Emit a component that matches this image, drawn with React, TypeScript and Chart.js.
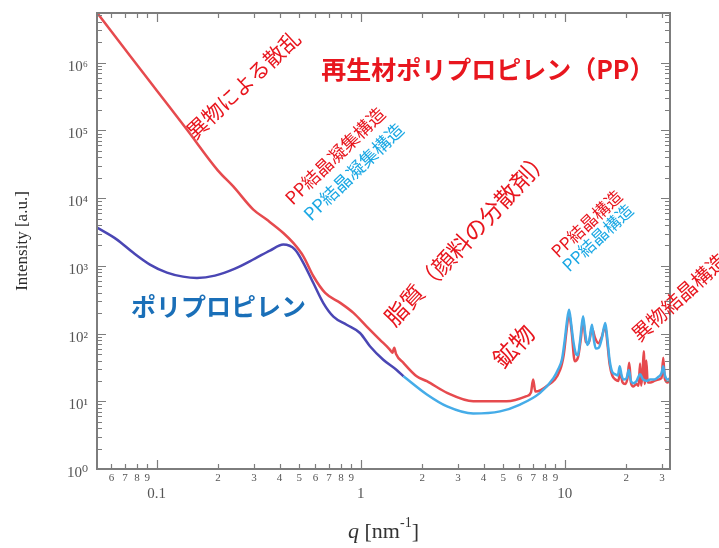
import React, { useEffect, useRef } from 'react';
import { Chart, registerables } from 'chart.js';

Chart.register(...registerables);

// ---------------- data ----------------
// Recycled PP (red)
const redQ = [0.0515, 0.074, 0.1003, 0.1406, 0.1998, 0.2373, 0.2977, 0.346, 0.4175, 0.4672, 0.5237, 0.5864, 0.6695, 0.794, 0.9213, 1.068, 1.24, 1.389, 1.43, 1.46, 1.49, 1.62, 1.88, 2.11, 2.65, 3.56, 5.19, 6.5, 6.83, 7.0, 7.18, 8.14, 9.5, 9.9, 10.2, 10.5, 10.8, 11.2, 11.6, 12.0, 12.3, 12.7, 13.1, 13.6, 14.1, 14.6, 15.2, 15.8, 16.2, 16.6, 17.1, 17.7, 18.3, 18.7, 19.2, 19.8, 20.3, 20.7, 21.1, 21.7, 22.4, 23.0, 23.4, 23.7, 24.1, 24.4, 24.7, 25.1, 25.5, 26.3, 27.5, 28.8, 29.8, 30.4, 30.9, 32.0, 32.8];
const redI = [5.29e6, 1.27e6, 3.86e5, 1.03e5, 2.55e4, 1.49e4, 6760, 4820, 3060, 2180, 1383, 702, 399, 284, 202, 128, 81.5, 58, 52, 62, 50, 36.9, 23.4, 19.8, 13.3, 10, 10, 11.9, 13.5, 21, 13.9, 16.7, 29.4, 50, 110, 200, 110, 39, 44, 85, 160, 75, 72, 120, 85, 72, 90, 128, 70, 35, 24, 21, 20, 27, 19, 18, 22, 37, 19, 16.5, 18, 17, 36, 17, 28, 55, 18, 40, 19, 19, 20, 21, 22, 44, 22, 19, 20];

// Virgin PP, small-angle part (navy)
const navyQ = [0.051, 0.0639, 0.0766, 0.0927, 0.1123, 0.1346, 0.1576, 0.193, 0.242, 0.303, 0.359, 0.4175, 0.4765, 0.524, 0.586, 0.656, 0.735, 0.853, 0.992, 1.11, 1.29, 1.5, 1.62];
const navyI = [3670, 2441, 1570, 1045, 795, 693, 664, 718, 910, 1280, 1680, 2060, 1738, 1100, 557, 282, 178, 135, 102, 65, 41, 29, 23.4];

// Virgin PP, wide-angle part (light blue)
const lightQ = [1.62, 2.11, 2.65, 3.56, 4.82, 6.04, 7.57, 8.8, 9.3, 9.7, 10.0, 10.25, 10.5, 10.75, 11.0, 11.3, 11.6, 11.9, 12.3, 12.6, 12.9, 13.2, 13.6, 13.9, 14.2, 14.7, 15.2, 15.8, 16.2, 16.6, 17.1, 17.7, 18.2, 18.6, 19.0, 19.5, 20.1, 20.6, 21.1, 21.7, 22.5, 23.4, 24.2, 25.2, 26.2, 27.5, 28.8, 29.8, 30.4, 31.0, 32.0, 32.8];
const lightI = [23.4, 12.6, 8.4, 6.6, 7.1, 8.94, 13.3, 22, 30, 42, 80, 150, 225, 140, 80, 52, 48, 80, 180, 100, 68, 80, 135, 80, 60, 62, 85, 143, 80, 40, 27, 25, 24, 33, 24, 21, 22, 29, 20, 18.5, 20, 25, 21, 20, 21, 21, 23, 26, 33, 24, 21, 22];

// axes
const X_MIN = 0.051;
const X_MAX = 32.8;
const Y_MIN = 1;
const Y_MAX = 5.42e6;

const xTickValues = [0.06, 0.07, 0.08, 0.09, 0.1, 0.2, 0.3, 0.4, 0.5, 0.6, 0.7, 0.8, 0.9, 1, 2, 3, 4, 5, 6, 7, 8, 9, 10, 20, 30];
const xTickLabels = ['6', '7', '8', '9', '0.1', '2', '3', '4', '5', '6', '7', '8', '9', '1', '2', '3', '4', '5', '6', '7', '8', '9', '10', '2', '3'];
const yTickValues = [1, 10, 100, 1000, 10000, 100000, 1000000];
const yTickLabels = ['10⁰', '10¹', '10²', '10³', '10⁴', '10⁵', '10⁶'];

const yTitle = 'Intensity [a.u.]';

// annotations (anchored in data coordinates)
const annotations = [
  { text: '異物による散乱', q: 0.2655, v: 4.73e5, color: '#e8161e', size: 21, angle: -43, weight: 'normal' },
  { text: '再生材ポリプロピレン（PP）', q: 4.2, v: 7.88e5, color: '#e8161e', size: 25, angle: 0, weight: 'bold' },
  { text: 'PP結晶凝集構造', q: 0.748, v: 4.24e4, color: '#e8161e', size: 18, angle: -44, weight: 'normal' },
  { text: 'PP結晶凝集構造', q: 0.922, v: 2.46e4, color: '#1ba8e4', size: 18, angle: -44, weight: 'normal' },
  { text: '脂質（顔料の分散剤）', q: 3.32, v: 2612, color: '#e8161e', size: 23, angle: -47, weight: 'normal' },
  { text: '鉱物', q: 5.61, v: 65.4, color: '#e8161e', size: 24, angle: -47, weight: 'normal' },
  { text: 'PP結晶構造', q: 12.8, v: 4205, color: '#e8161e', size: 17, angle: -43, weight: 'normal' },
  { text: 'PP結晶構造', q: 14.5, v: 2612, color: '#1ba8e4', size: 17, angle: -43, weight: 'normal' },
  { text: 'ポリプロピレン', q: 0.201, v: 253, color: '#1a6fb8', size: 25, angle: 0, weight: 'bold' },
  { text: '異物結晶構造', q: 36.3, v: 346, color: '#e8161e', size: 20, angle: -42, weight: 'normal' },
];

const SERIF = '"Liberation Serif", "DejaVu Serif", "Times New Roman", serif';
const JP = '"Noto Sans CJK JP", "Noto Sans", sans-serif';
const AXIS_GRAY = '#7d7d7d';

function isPow10(v: number) {
  const l = Math.log10(v);
  return Math.abs(l - Math.round(l)) < 1e-9;
}

const frameAndTextPlugin = {
  id: 'frameAndText',
  afterDraw(chart: any) {
    const { ctx, chartArea, scales } = chart;
    const { left, right, top, bottom } = chartArea;
    const xs = scales.x;
    const ys = scales.y;
    ctx.save();
    // frame
    ctx.strokeStyle = AXIS_GRAY;
    ctx.lineWidth = 2;
    ctx.strokeRect(left, top, right - left, bottom - top);
    // inward ticks
    ctx.lineWidth = 1.2;
    ctx.beginPath();
    for (let d = -3; d <= 8; d++) {
      for (let m = 1; m <= 9; m++) {
        const v = m * Math.pow(10, d);
        const len = m === 1 ? 9 : 5;
        if (v >= X_MIN && v <= X_MAX) {
          const px = Math.round(xs.getPixelForValue(v)) + 0.5;
          ctx.moveTo(px, bottom);
          ctx.lineTo(px, bottom - len);
          ctx.moveTo(px, top);
          ctx.lineTo(px, top + len);
        }
        if (v >= Y_MIN && v <= Y_MAX) {
          const py = Math.round(ys.getPixelForValue(v)) + 0.5;
          ctx.moveTo(left, py);
          ctx.lineTo(left + len, py);
          ctx.moveTo(right, py);
          ctx.lineTo(right - len, py);
        }
      }
    }
    ctx.stroke();

    // x-axis title with italic q
    const cx = (left + right) / 2;
    const by = 538;
    ctx.fillStyle = '#333';
    ctx.textBaseline = 'alphabetic';
    ctx.textAlign = 'left';
    const fMain = `22px ${SERIF}`;
    const fItal = `italic 22px ${SERIF}`;
    const fSup = `14px ${SERIF}`;
    ctx.font = fItal;
    const w1 = ctx.measureText('q').width;
    ctx.font = fMain;
    const w2 = ctx.measureText(' [nm').width;
    const w4 = ctx.measureText(']').width;
    ctx.font = fSup;
    const w3 = ctx.measureText('-1').width;
    let sx = cx - (w1 + w2 + w3 + w4) / 2;
    ctx.font = fItal;
    ctx.fillText('q', sx, by);
    sx += w1;
    ctx.font = fMain;
    ctx.fillText(' [nm', sx, by);
    sx += w2;
    ctx.font = fSup;
    ctx.fillText('-1', sx, by - 11);
    sx += w3;
    ctx.font = fMain;
    ctx.fillText(']', sx, by);

    // annotations
    for (const a of annotations) {
      const px = xs.getPixelForValue(a.q);
      const py = ys.getPixelForValue(a.v);
      ctx.save();
      ctx.translate(px, py);
      ctx.rotate((a.angle * Math.PI) / 180);
      ctx.font = `${a.weight} ${a.size}px ${JP}`;
      ctx.fillStyle = a.color;
      ctx.textAlign = 'center';
      ctx.textBaseline = 'middle';
      ctx.fillText(a.text, 0, 0);
      ctx.restore();
    }
    ctx.restore();
  },
};

export default function App() {
  const canvasRef = useRef<HTMLCanvasElement | null>(null);

  useEffect(() => {
    const canvas = canvasRef.current;
    if (!canvas) return;
    const toPts = (qs: number[], is: number[]) => qs.map((q, i) => ({ x: q, y: is[i] }));
    const chart = new Chart(canvas, {
      type: 'line',
      data: {
        datasets: [
          {
            label: 'PP (wide angle)',
            data: toPts(lightQ, lightI),
            borderColor: '#45ace8',
            borderWidth: 2.5,
            pointRadius: 0,
            cubicInterpolationMode: 'monotone',
            fill: false,
          },
          {
            label: 'PP (small angle)',
            data: toPts(navyQ, navyI),
            borderColor: '#4a46b4',
            borderWidth: 2.5,
            pointRadius: 0,
            cubicInterpolationMode: 'monotone',
            fill: false,
          },
          {
            label: '再生材PP',
            data: toPts(redQ, redI),
            borderColor: '#e64a4e',
            borderWidth: 2.5,
            pointRadius: 0,
            cubicInterpolationMode: 'monotone',
            fill: false,
          },
        ],
      },
      options: {
        animation: false,
        responsive: false,
        maintainAspectRatio: false,
        devicePixelRatio: 1,
        layout: { padding: { left: 0, right: 49, top: 13, bottom: 0 } },
        plugins: {
          legend: { display: false },
          tooltip: { enabled: false },
        },
        scales: {
          x: {
            type: 'logarithmic',
            min: X_MIN,
            max: X_MAX,
            grid: { display: false, drawTicks: false },
            border: { display: false },
            afterBuildTicks: (s: any) => {
              s.ticks = xTickValues.map((v) => ({ value: v }));
            },
            afterFit: (s: any) => {
              s.height = 79;
              s.paddingLeft = 0;
              s.paddingRight = 0;
            },
            ticks: {
              autoSkip: false,
              maxRotation: 0,
              minRotation: 0,
              padding: 3,
              color: '#555',
              font: (c: any) =>
                c.tick && isPow10(c.tick.value)
                  ? { family: SERIF, size: 15, lineHeight: 1.0 }
                  : { family: SERIF, size: 11, lineHeight: 1.2 },
              callback: (_v: any, i: number) =>
                isPow10(xTickValues[i]) ? ['', xTickLabels[i]] : xTickLabels[i],
            },
          },
          y: {
            type: 'logarithmic',
            min: Y_MIN,
            max: Y_MAX,
            grid: { display: false, drawTicks: false },
            border: { display: false },
            afterBuildTicks: (s: any) => {
              s.ticks = yTickValues.map((v) => ({ value: v }));
            },
            afterFit: (s: any) => {
              s.width = 97;
              s.paddingTop = 0;
              s.paddingBottom = 0;
            },
            ticks: {
              autoSkip: false,
              padding: 9,
              labelOffset: 4,
              color: '#555',
              font: { family: SERIF, size: 15 },
              callback: (_v: any, i: number) => yTickLabels[i],
            },
            title: {
              display: true,
              text: yTitle,
              color: '#2a2a2a',
              font: { family: SERIF, size: 17 },
              padding: { top: 12, bottom: 0 },
            },
          },
        },
      },
      plugins: [frameAndTextPlugin],
    } as any);
    return () => chart.destroy();
  }, []);

  return (
    <div style={{ position: 'absolute', left: 0, top: 0, width: 719, height: 548, background: '#fff' }}>
      <canvas ref={canvasRef} width={719} height={548} style={{ display: 'block' }} />
    </div>
  );
}
